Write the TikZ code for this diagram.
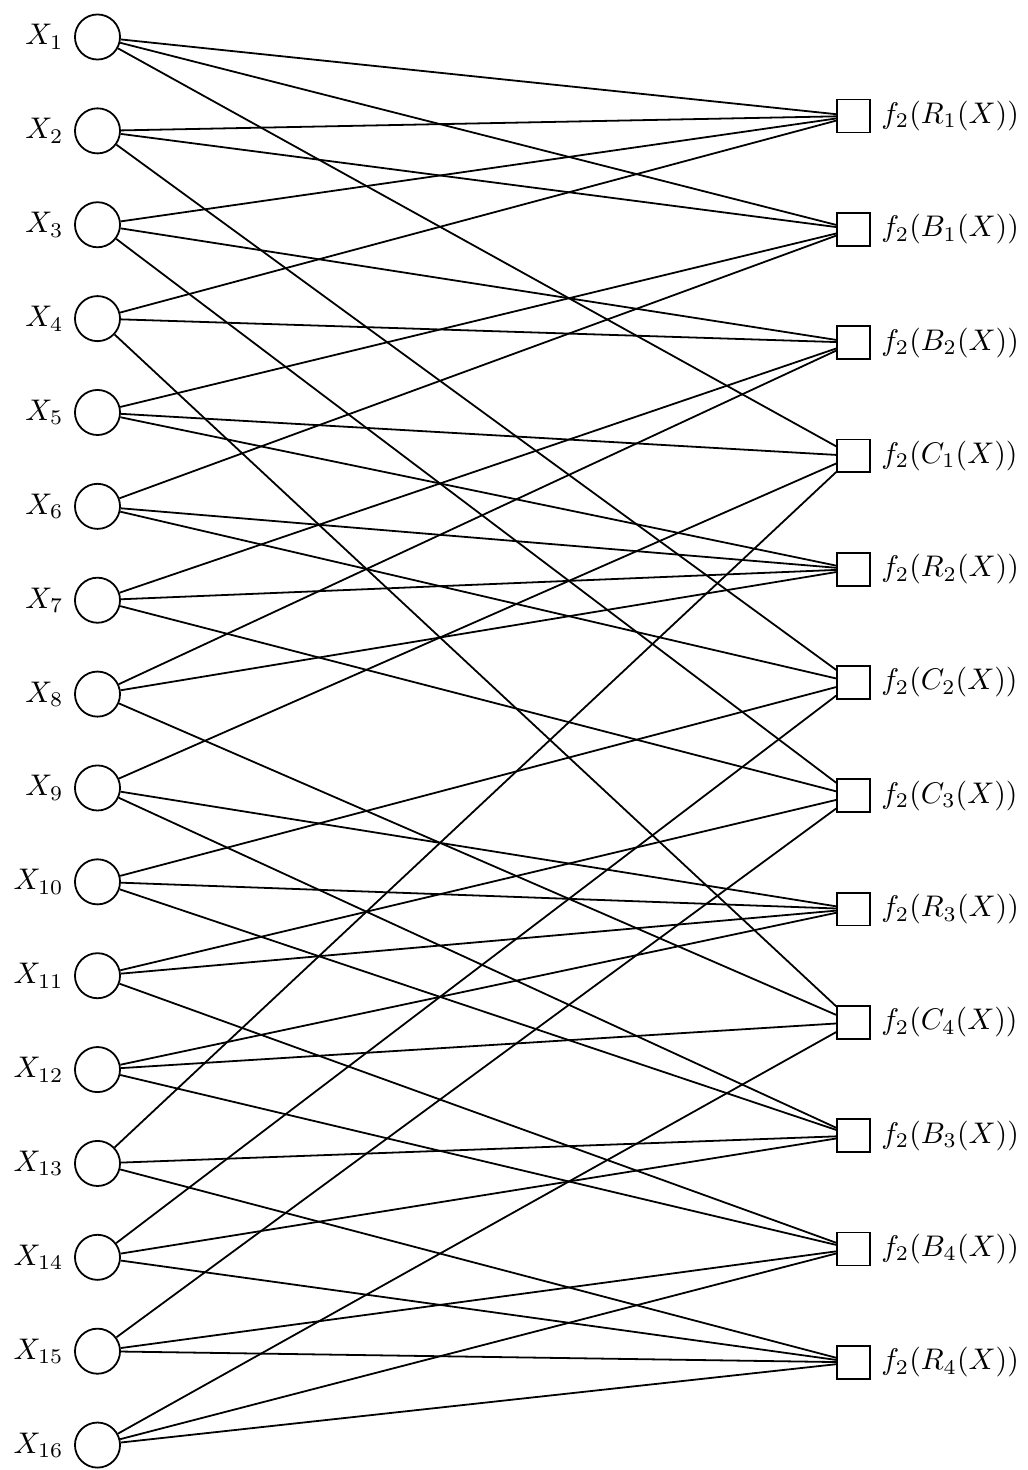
\documentclass[tikz,border=0pt]{standalone}
\usepackage{amsmath}
\usetikzlibrary{positioning}
\begin{document}
\begin{tikzpicture}[
  x=0.335pt, y=-0.335pt,
  var/.style={draw, circle, minimum size=15.1pt, inner sep=0pt, semithick},
  fac/.style={draw, rectangle, minimum size=11pt, inner sep=0pt, semithick},
  edge/.style={semithick}
]
\useasboundingbox (0,0) rectangle (1028,1470);
% variable nodes
\foreach \i in {1,...,16}
  \node[var, label=left:$X_{\i}$] (x\i) at (97.5, {37+(\i-1)*93.87}) {};
% factor nodes
\foreach \n/\t [count=\j from 0] in {r1/R_1, b1/B_1, b2/B_2, c1/C_1, r2/R_2, c2/C_2,
    c3/C_3, r3/R_3, c4/C_4, b3/B_3, b4/B_4, r4/R_4}
  \node[fac, label=right:$f_2(\t(X))$] (\n) at (853.5, {116+\j*113.3}) {};
% edges
\foreach \n/\vs in {r1/{1,2,3,4}, r2/{5,6,7,8}, r3/{9,10,11,12}, r4/{13,14,15,16},
    c1/{1,5,9,13}, c2/{2,6,10,14}, c3/{3,7,11,15}, c4/{4,8,12,16},
    b1/{1,2,5,6}, b2/{3,4,7,8}, b3/{9,10,13,14}, b4/{11,12,15,16}}
  \foreach \i in \vs
    \draw[edge] (x\i) -- (\n);
\end{tikzpicture}
\end{document}
